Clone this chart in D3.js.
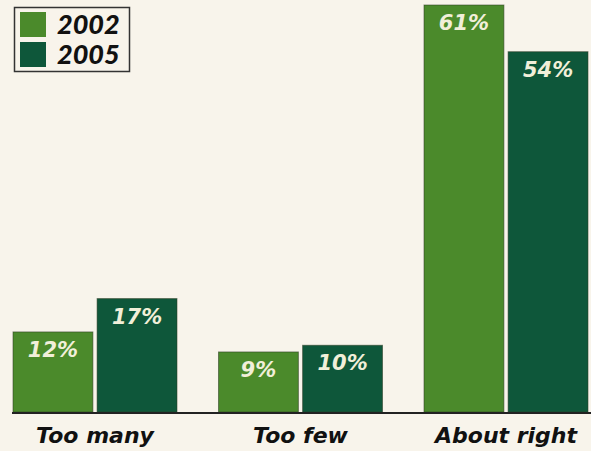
<!DOCTYPE html>
<html>
<head>
<meta charset="utf-8">
<script src="https://cdn.jsdelivr.net/npm/d3@7/dist/d3.min.js"></script>
<style>
  html, body { margin: 0; padding: 0; background: #f8f4eb; }
  svg { display: block; }
</style>
</head>
<body>
<svg id="chart" width="591" height="451"></svg>
<script>
const categories = ["Too many", "Too few", "About right"];
const seriesNames = ["2002", "2005"];
const values2002 = [12, 9, 61];
const values2005 = [17, 10, 54];
const valueLabels2002 = ["12%", "9%", "61%"];
const valueLabels2005 = ["17%", "10%", "54%"];
const colors = ["#4b8a2b", "#0e573a"];

const W = 591, H = 451;
const baseY = 412;
const svg = d3.select("#chart");

svg.append("rect").attr("width", W).attr("height", H).attr("fill", "#f8f4eb");

const x0 = d3.scaleBand().domain(categories).range([13, 588]).paddingInner(0.202).paddingOuter(0);
const x1 = d3.scaleBand().domain(seriesNames).range([0, x0.bandwidth()]).paddingInner(0.05);
const y = d3.scaleLinear().domain([0, 61]).range([baseY, 5]);

const rows = categories.map((c, i) => ({
  cat: c,
  items: [
    { s: seriesNames[0], v: values2002[i], label: valueLabels2002[i], color: colors[0] },
    { s: seriesNames[1], v: values2005[i], label: valueLabels2005[i], color: colors[1] }
  ]
}));

const g = svg.append("g");
const groups = g.selectAll("g.grp").data(rows).join("g")
  .attr("class", "grp")
  .attr("transform", d => `translate(${x0(d.cat)},0)`);

groups.selectAll("rect").data(d => d.items).join("rect")
  .attr("x", d => x1(d.s))
  .attr("y", d => y(d.v))
  .attr("width", x1.bandwidth())
  .attr("height", d => baseY - y(d.v))
  .attr("fill", d => d.color)
  .attr("stroke", "#2b3a22")
  .attr("stroke-opacity", 0.55)
  .attr("stroke-width", 1);

groups.selectAll("text.val").data(d => d.items).join("text")
  .attr("class", "val")
  .attr("x", d => x1(d.s) + x1.bandwidth() / 2)
  .attr("y", d => y(d.v) + 25)
  .attr("text-anchor", "middle")
  .attr("font-family", "DejaVu Sans")
  .attr("font-weight", "bold")
  .attr("font-style", "italic")
  .attr("font-size", 21)
  .attr("fill", "#f1efd9")
  .text(d => d.label);

// baseline
svg.append("line")
  .attr("x1", 12).attr("x2", W)
  .attr("y1", baseY + 1).attr("y2", baseY + 1)
  .attr("stroke", "#222").attr("stroke-width", 2);

// category labels
const xAxis = d3.axisBottom(x0).tickSize(0).tickPadding(0);
const ax = svg.append("g").attr("transform", `translate(0,${baseY})`).call(xAxis);
ax.select(".domain").remove();
ax.selectAll("text")
  .attr("y", 31)
  .attr("dy", 0)
  .attr("font-family", "DejaVu Sans")
  .attr("font-weight", "bold")
  .attr("font-style", "italic")
  .attr("font-size", 22)
  .attr("fill", "#111");

// legend
const leg = svg.append("g");
leg.append("rect")
  .attr("x", 14.5).attr("y", 7.5).attr("width", 115).attr("height", 64)
  .attr("fill", "none").attr("stroke", "#333").attr("stroke-width", 1.5);
seriesNames.forEach((s, i) => {
  leg.append("rect")
    .attr("x", 20).attr("y", 12 + i * 30).attr("width", 26).attr("height", 25)
    .attr("fill", colors[i]);
  leg.append("text")
    .attr("x", 57).attr("y", 34 + i * 30)
    .attr("font-family", "Lato")
    .attr("font-weight", 900)
    .attr("font-style", "italic")
    .attr("font-size", 27)
    .attr("fill", "#111")
    .text(s);
});
</script>
</body>
</html>
